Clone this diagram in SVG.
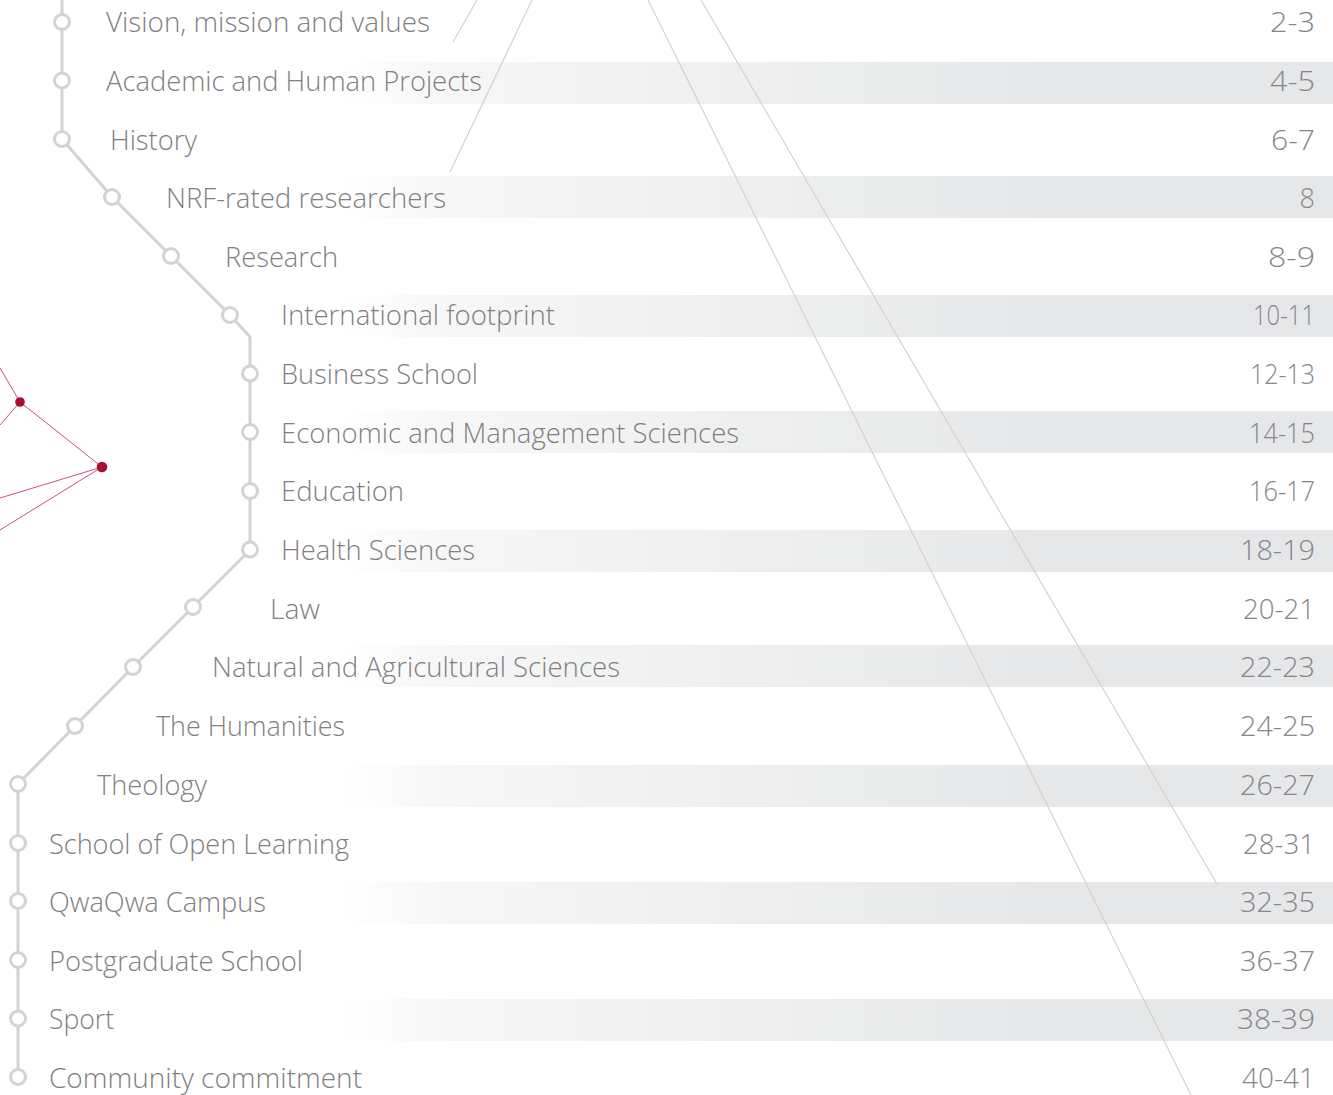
<svg xmlns="http://www.w3.org/2000/svg" width="1333" height="1095" viewBox="0 0 1333 1095">
<style>
.lbl{font-family:"Open Sans","Liberation Sans",sans-serif;font-weight:300;font-size:27px;fill:#7f8083;}
.pg{font-family:"Open Sans","Liberation Sans",sans-serif;font-weight:300;font-size:27px;fill:#85868a;text-anchor:end;}
.band{fill:url(#bg);}
.diag{stroke:#cfcfcf;stroke-width:1.1;fill:none;}
.tl{stroke:#d3d3d3;stroke-width:3;fill:none;stroke-linejoin:round;}
.node circle{fill:#ffffff;stroke:#d3d3d3;stroke-width:3;}
.net{stroke:#c9566e;stroke-width:1;fill:none;}
.dot{fill:#a8102f;}
</style>
<defs>
<linearGradient id="bg" gradientUnits="userSpaceOnUse" x1="340" y1="0" x2="1050" y2="0">
<stop offset="0" stop-color="#e6e7e8" stop-opacity="0"/>
<stop offset="0.15" stop-color="#e6e7e8" stop-opacity="0.35"/>
<stop offset="1" stop-color="#e6e7e8" stop-opacity="1"/>
</linearGradient>
</defs>
<rect width="1333" height="1095" fill="#ffffff"/>
<g id="bands">
<rect class="band" x="0" y="62" width="1333" height="42"/>
<rect class="band" x="0" y="176" width="1333" height="42"/>
<rect class="band" x="0" y="295" width="1333" height="42"/>
<rect class="band" x="0" y="411" width="1333" height="42"/>
<rect class="band" x="0" y="530" width="1333" height="42"/>
<rect class="band" x="0" y="645" width="1333" height="42"/>
<rect class="band" x="0" y="765" width="1333" height="42"/>
<rect class="band" x="0" y="882" width="1333" height="42"/>
<rect class="band" x="0" y="999" width="1333" height="42"/>
</g>
<g id="diagonals">
<line class="diag" x1="477" y1="0" x2="453" y2="42"/>
<line class="diag" x1="532" y1="0" x2="450" y2="172"/>
<line class="diag" x1="648" y1="0" x2="1191" y2="1095"/>
<line class="diag" x1="701" y1="0" x2="1217" y2="884"/>
</g>
<g id="network">
<line class="net" x1="0" y1="368" x2="20" y2="402"/>
<line class="net" x1="20" y1="402" x2="0" y2="425"/>
<line class="net" x1="20" y1="402" x2="102" y2="467"/>
<line class="net" x1="102" y1="467" x2="0" y2="498"/>
<line class="net" x1="102" y1="467" x2="0" y2="530"/>
<circle class="dot" cx="20" cy="402" r="4.8"/>
<circle class="dot" cx="102" cy="467" r="5.3"/>
</g>
<g id="connectors">
<polyline class="tl" points="62,0 62,139 112,197 171,256 230,315 250,337 250,550 193,607 133,667 75,726 18,784 18,1077"/>
</g>
<g id="row1" class="node"><circle cx="62" cy="22" r="7.5"/><text class="lbl" x="106" y="32" textLength="324" lengthAdjust="spacingAndGlyphs">Vision, mission and values</text><text class="pg" x="1315" y="32" textLength="45" lengthAdjust="spacingAndGlyphs">2-3</text></g>
<g id="row2" class="node"><circle cx="62" cy="80.5" r="7.5"/><text class="lbl" x="106" y="91" textLength="376" lengthAdjust="spacingAndGlyphs">Academic and Human Projects</text><text class="pg" x="1315" y="91" textLength="45" lengthAdjust="spacingAndGlyphs">4-5</text></g>
<g id="row3" class="node"><circle cx="62" cy="139" r="7.5"/><text class="lbl" x="110" y="149.5" textLength="87" lengthAdjust="spacingAndGlyphs">History</text><text class="pg" x="1315" y="149.5" textLength="44" lengthAdjust="spacingAndGlyphs">6-7</text></g>
<g id="row4" class="node"><circle cx="112" cy="197" r="7.5"/><text class="lbl" x="166" y="208" textLength="280" lengthAdjust="spacingAndGlyphs">NRF-rated researchers</text><text class="pg" x="1315" y="208">8</text></g>
<g id="row5" class="node"><circle cx="171" cy="256" r="7.5"/><text class="lbl" x="225" y="266.5" textLength="113" lengthAdjust="spacingAndGlyphs">Research</text><text class="pg" x="1315" y="266.5" textLength="47" lengthAdjust="spacingAndGlyphs">8-9</text></g>
<g id="row6" class="node"><circle cx="230" cy="315" r="7.5"/><text class="lbl" x="281" y="325" textLength="274" lengthAdjust="spacingAndGlyphs">International footprint</text><text class="pg" x="1315" y="325" textLength="62" lengthAdjust="spacingAndGlyphs">10-11</text></g>
<g id="row7" class="node"><circle cx="250" cy="373.5" r="7.5"/><text class="lbl" x="281" y="384" textLength="197" lengthAdjust="spacingAndGlyphs">Business School</text><text class="pg" x="1315" y="384" textLength="65" lengthAdjust="spacingAndGlyphs">12-13</text></g>
<g id="row8" class="node"><circle cx="250" cy="432" r="7.5"/><text class="lbl" x="281" y="442.5" textLength="458" lengthAdjust="spacingAndGlyphs">Economic and Management Sciences</text><text class="pg" x="1315" y="442.5" textLength="66" lengthAdjust="spacingAndGlyphs">14-15</text></g>
<g id="row9" class="node"><circle cx="250" cy="491" r="7.5"/><text class="lbl" x="281" y="501" textLength="123" lengthAdjust="spacingAndGlyphs">Education</text><text class="pg" x="1315" y="501" textLength="66" lengthAdjust="spacingAndGlyphs">16-17</text></g>
<g id="row10" class="node"><circle cx="250" cy="549.5" r="7.5"/><text class="lbl" x="281" y="560" textLength="194" lengthAdjust="spacingAndGlyphs">Health Sciences</text><text class="pg" x="1315" y="560" textLength="75" lengthAdjust="spacingAndGlyphs">18-19</text></g>
<g id="row11" class="node"><circle cx="193" cy="607" r="7.5"/><text class="lbl" x="270" y="619" textLength="50" lengthAdjust="spacingAndGlyphs">Law</text><text class="pg" x="1315" y="619" textLength="72" lengthAdjust="spacingAndGlyphs">20-21</text></g>
<g id="row12" class="node"><circle cx="133" cy="667" r="7.5"/><text class="lbl" x="212" y="677" textLength="408" lengthAdjust="spacingAndGlyphs">Natural and Agricultural Sciences</text><text class="pg" x="1315" y="677" textLength="75" lengthAdjust="spacingAndGlyphs">22-23</text></g>
<g id="row13" class="node"><circle cx="75" cy="726" r="7.5"/><text class="lbl" x="156" y="736" textLength="189" lengthAdjust="spacingAndGlyphs">The Humanities</text><text class="pg" x="1315" y="736" textLength="75" lengthAdjust="spacingAndGlyphs">24-25</text></g>
<g id="row14" class="node"><circle cx="18" cy="784" r="7.5"/><text class="lbl" x="97" y="795" textLength="110" lengthAdjust="spacingAndGlyphs">Theology</text><text class="pg" x="1315" y="795" textLength="75" lengthAdjust="spacingAndGlyphs">26-27</text></g>
<g id="row15" class="node"><circle cx="18" cy="843" r="7.5"/><text class="lbl" x="49" y="853.5" textLength="300" lengthAdjust="spacingAndGlyphs">School of Open Learning</text><text class="pg" x="1315" y="853.5" textLength="72" lengthAdjust="spacingAndGlyphs">28-31</text></g>
<g id="row16" class="node"><circle cx="18" cy="901" r="7.5"/><text class="lbl" x="49" y="912" textLength="217" lengthAdjust="spacingAndGlyphs">QwaQwa Campus</text><text class="pg" x="1315" y="912" textLength="75" lengthAdjust="spacingAndGlyphs">32-35</text></g>
<g id="row17" class="node"><circle cx="18" cy="960" r="7.5"/><text class="lbl" x="49" y="971" textLength="254" lengthAdjust="spacingAndGlyphs">Postgraduate School</text><text class="pg" x="1315" y="971" textLength="75" lengthAdjust="spacingAndGlyphs">36-37</text></g>
<g id="row18" class="node"><circle cx="18" cy="1018.5" r="7.5"/><text class="lbl" x="49" y="1029" textLength="65" lengthAdjust="spacingAndGlyphs">Sport</text><text class="pg" x="1315" y="1029" textLength="78" lengthAdjust="spacingAndGlyphs">38-39</text></g>
<g id="row19" class="node"><circle cx="18" cy="1077" r="7.5"/><text class="lbl" x="49" y="1088" textLength="313" lengthAdjust="spacingAndGlyphs">Community commitment</text><text class="pg" x="1315" y="1088" textLength="73" lengthAdjust="spacingAndGlyphs">40-41</text></g>
</svg>
